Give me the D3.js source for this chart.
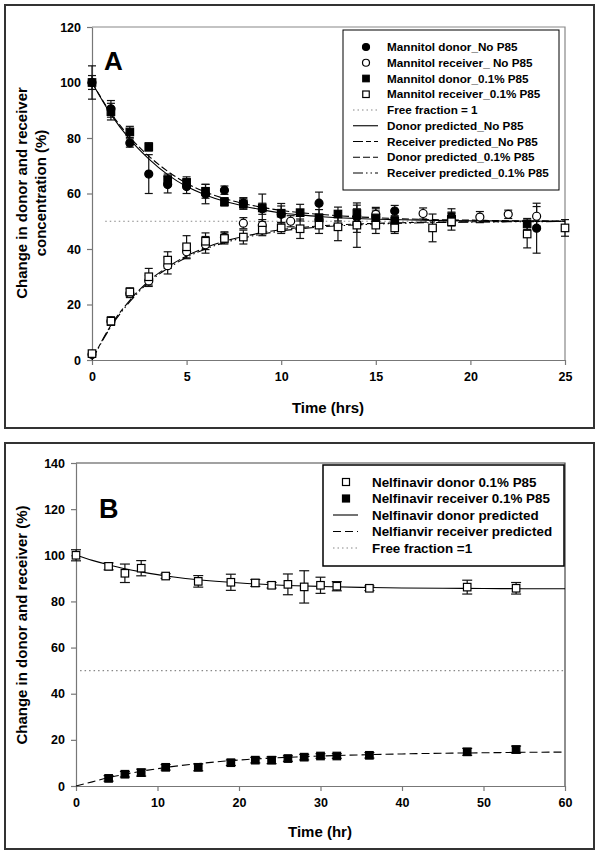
<!DOCTYPE html>
<html><head><meta charset="utf-8">
<script src="https://cdn.jsdelivr.net/npm/d3@7/dist/d3.min.js"></script>
<style>
body{margin:0;background:#fff;}
svg text{font-family:"Liberation Sans",Arial,Helvetica,sans-serif;font-weight:bold;fill:#000;}
</style></head>
<body>
<script>
// ---------------- Panel A data (Mannitol) ----------------
const aXTicks = [0,5,10,15,20,25];
const aYTicks = [0,20,40,60,80,100,120];

const donorNoT   = [0,1,2,3,4,5,6,7,8,9,10,12,14,15,16,19,23.5];
const donorNoV   = [100,90.5,78.2,67,63.2,62.5,59.8,61.2,56.5,54.5,52.5,56.5,51.5,51.5,53.7,51.5,47.5];
const donorNoE   = [6,3,1.5,7,3,2.5,3.5,1.5,2,2,3,4,3,3,2,3,9];

const recvNoT    = [0,1,2,3,4,5,6,7,8,9,10.5,12,14,15,17.5,19,20.5,22,23.5];
const recvNoV    = [2,14,24,28.5,34,39,41.5,44.2,49.3,48.6,50,50.5,49,52.5,52.8,51,51.5,52.5,51.8];
const recvNoE    = [1,1.5,1.5,2,3,2.5,3,2,2,2,2,2,3,2.5,2,2,2,1.5,3.5];

const donor01T   = [0,1,2,3,4,5,6,7,8,9,10,11,12,13,14,15,16,19,23];
const donor01V   = [100,89.5,82.2,76.8,65,64,60.8,57,56.3,54.8,52.9,53.1,51.2,52.6,52.8,51.2,50,50.8,49];
const donor01E   = [2.5,3,2,1.5,2,2,2.5,1.5,2,5,3.5,3,3,2.5,3,2.5,2,2.5,2];

const recv01T    = [0,1,2,3,4,5,6,7,8,9,10,11,12,13,14,15,16,18,19,23,25];
const recv01V    = [2.3,14,24.5,30,36,40.8,42.8,43.8,44.3,46.8,47.6,47.3,48.6,48,48.6,48.6,47.6,47.6,49.8,45.4,47.6];
const recv01E    = [1,1.5,1.5,3,3,4,3,2,2.5,2,2,3.5,3,5,8,3,2,5,3,5,3];

const predAT         = [0,1,2,3,4,5,6,7,8,9,10,11,12,14,16,18,20,22,25];
const predDonorNo    = [100,88.5,79.5,72.5,66.8,62.5,59.5,57.2,55.5,54.1,53,52.3,51.7,51,50.6,50.3,50.2,50.1,50];
const predRecvNo     = [0,12.5,21.5,28.5,33.5,37.5,40.5,42.8,44.5,45.9,47,47.7,48.3,49,49.4,49.7,49.8,49.9,50];
const predDonor01    = [100,89,80.3,73.5,68,63.7,60.5,58.2,56.4,55,53.9,53.1,52.5,51.6,51,50.6,50.4,50.2,50.1];
const predRecv01     = [0,12,21,28,33,37,40,42.3,44,45.4,46.5,47.3,47.9,48.7,49.2,49.5,49.7,49.8,49.9];
const freeA = [[0.7,50],[25,50]];

const aLegend = ["Mannitol donor_No P85","Mannitol receiver_ No P85","Mannitol donor_0.1% P85","Mannitol receiver_0.1% P85","Free fraction = 1","Donor predicted_No P85","Receiver predicted_No P85","Donor predicted_0.1% P85","Receiver predicted_0.1% P85"];

// ---------------- Panel B data (Nelfinavir) ----------------
const bXTicks = [0,10,20,30,40,50,60];
const bYTicks = [0,20,40,60,80,100,120,140];
const nelT       = [0,4,6,8,11,15,19,22,24,26,28,30,32,36,48,54];
const nelDonorV  = [100,95.2,92.2,94.4,91,88.7,88.3,88,87,87.4,86.3,87,86.6,85.7,86.2,85.7];
const nelDonorE  = [2.4,1.5,4,3.3,1,2.5,3.5,1.5,1.2,4.5,7,3.5,2,1,3,2.5];
const nelRecvT   = [4,6,8,11,15,19,22,24,26,28,30,32,36,48,54];
const nelRecvV   = [3.3,5.1,5.8,8.1,8.1,10.1,11.2,11.2,11.9,12.5,13,13,13.3,14.8,15.8];
const nelRecvE   = [1.2,1.2,1.5,1.2,1.5,1.2,1.2,1.5,1.2,1.2,1,1,1.2,1.5,1.5];
const predBT        = [0,2,4,6,8,10,12,15,18,21,24,27,30,35,40,45,50,55,60];
const predNelDonor  = [100,97.8,95.9,94.2,92.8,91.6,90.6,89.4,88.5,87.8,87.2,86.8,86.5,86.1,85.8,85.7,85.6,85.5,85.5];
const predNelRecv   = [0,1.8,3.6,5.1,6.4,7.5,8.5,9.7,10.7,11.5,12.1,12.6,13,13.5,13.9,14.2,14.4,14.6,14.7];
const freeB = [[0.5,50],[60,50]];

const bLegend = ["Nelfinavir donor 0.1% P85","Nelfinavir receiver 0.1% P85","Nelfinavir donor predicted","Nelfianvir receiver predicted","Free fraction =1"];

// ---------------- drawing ----------------
const svg = d3.select("body").append("svg").attr("width",600).attr("height",854);

// outer boxes
svg.append("rect").attr("x",5).attr("y",5).attr("width",589).attr("height",423)
  .attr("fill","none").attr("stroke","#333").attr("stroke-width",2);
svg.append("rect").attr("x",5).attr("y",443).attr("width",589).attr("height",406)
  .attr("fill","none").attr("stroke","#333").attr("stroke-width",2);

const xA = d3.scaleLinear().domain([0,25]).range([92,565]);
const yA = d3.scaleLinear().domain([0,120]).range([360,27]);
const xB = d3.scaleLinear().domain([0,60]).range([76,565]);
const yB = d3.scaleLinear().domain([0,140]).range([786,463]);

function axes(x,y,xt,yt,frameColor){
  const gx = svg.append("g").attr("transform",`translate(0,${y.range()[0]})`)
    .call(d3.axisBottom(x).tickValues(xt).tickSize(5).tickSizeOuter(0).tickPadding(7));
  const gy = svg.append("g").attr("transform",`translate(${x.range()[0]},0)`)
    .call(d3.axisLeft(y).tickValues(yt).tickSize(5).tickSizeOuter(0).tickPadding(6));
  [gx,gy].forEach(g=>{
    g.selectAll("path,line").attr("stroke","#777").attr("stroke-width",1.2);
    g.selectAll("text").attr("font-size",12.5).style("font-weight","bold")
      .attr("font-family","'Liberation Sans',Arial,sans-serif").attr("fill","#000");
  });
  svg.append("path")
    .attr("d",`M${x.range()[0]},${y.range()[1]}H${x.range()[1]}V${y.range()[0]}`)
    .attr("fill","none").attr("stroke",frameColor).attr("stroke-width",1.2);
}
axes(xA,yA,aXTicks,aYTicks,"#888");
axes(xB,yB,bXTicks,bYTicks,"#444");

function line(x,y,ts,vs,dash,color,w){
  const pts = ts.map((t,i)=>[t,vs[i]]);
  svg.append("path").datum(pts)
    .attr("d",d3.line().x(d=>x(d[0])).y(d=>y(d[1])).curve(d3.curveMonotoneX))
    .attr("fill","none").attr("stroke",color||"#000").attr("stroke-width",w||1.1)
    .attr("stroke-dasharray",dash||null);
}
function errbars(x,y,ts,vs,es,cap){
  const g = svg.append("g").attr("stroke","#111").attr("stroke-width",1.2);
  ts.forEach((t,i)=>{
    const cx=x(t), y1=y(vs[i]+es[i]), y2=y(vs[i]-es[i]);
    g.append("line").attr("x1",cx).attr("x2",cx).attr("y1",y1).attr("y2",y2);
    g.append("line").attr("x1",cx-cap).attr("x2",cx+cap).attr("y1",y1).attr("y2",y1);
    g.append("line").attr("x1",cx-cap).attr("x2",cx+cap).attr("y1",y2).attr("y2",y2);
  });
}
function marker(g,cx,cy,shape,filled,s){
  if(shape==="circle"){
    g.append("circle").attr("cx",cx).attr("cy",cy).attr("r",s/2)
      .attr("fill",filled?"#000":"#fff").attr("stroke","#000").attr("stroke-width",1.2);
  } else {
    g.append("rect").attr("x",cx-s/2).attr("y",cy-s/2).attr("width",s).attr("height",s)
      .attr("fill",filled?"#000":"#fff").attr("stroke","#000").attr("stroke-width",1.2);
  }
}
function points(x,y,ts,vs,shape,filled,s){
  const g = svg.append("g");
  ts.forEach((t,i)=>marker(g,x(t),y(vs[i]),shape,filled,s));
}

// Panel A
const DOT = "1.5,3";
line(xA,yA,freeA.map(d=>d[0]),freeA.map(d=>d[1]),DOT,"#888",1.2);
errbars(xA,yA,donorNoT,donorNoV,donorNoE,4);
errbars(xA,yA,recvNoT,recvNoV,recvNoE,4);
errbars(xA,yA,donor01T,donor01V,donor01E,4);
errbars(xA,yA,recv01T,recv01V,recv01E,4);
line(xA,yA,predAT,predDonorNo,null);
line(xA,yA,predAT,predRecvNo,"10,3,5,3");
line(xA,yA,predAT,predDonor01,"7,3");
line(xA,yA,predAT,predRecv01,"10,3,1.5,3,1.5,3");
points(xA,yA,donorNoT,donorNoV,"circle",true,8);
points(xA,yA,recvNoT,recvNoV,"circle",false,8);
points(xA,yA,donor01T,donor01V,"square",true,7.5);
points(xA,yA,recv01T,recv01V,"square",false,7.5);

svg.append("text").attr("x",104).attr("y",70).attr("font-size",26).text("A");
svg.append("text").attr("x",328).attr("y",413).attr("text-anchor","middle").attr("font-size",15).text("Time (hrs)");
svg.append("text").attr("transform","translate(27,193) rotate(-90)").attr("text-anchor","middle").attr("font-size",15).text("Change in donor and receiver");
svg.append("text").attr("transform","translate(46,193) rotate(-90)").attr("text-anchor","middle").attr("font-size",15).text("concentration (%)");

// legend A
svg.append("rect").attr("x",343).attr("y",30).attr("width",216).attr("height",160)
  .attr("fill","#fff").attr("stroke","#000").attr("stroke-width",1);
const legA = svg.append("g");
const aStyles = [
  {m:"circle",f:true},{m:"circle",f:false},{m:"square",f:true},{m:"square",f:false},
  {l:DOT,c:"#888"},{l:null},{l:"10,3,5,3"},{l:"7,3"},{l:"10,3,1.5,3,1.5,3"}];
aLegend.forEach((txt,i)=>{
  const yy = 47 + i*15.75;
  const st = aStyles[i];
  if(st.m) marker(legA,366,yy,st.m,st.f,st.m==="circle"?7:6.5);
  else legA.append("line").attr("x1",353).attr("x2",378).attr("y1",yy).attr("y2",yy)
      .attr("stroke",st.c||"#000").attr("stroke-width",1.1).attr("stroke-dasharray",st.l);
  legA.append("text").attr("x",387).attr("y",yy+4).attr("font-size",11.7).text(txt);
});

// Panel B
line(xB,yB,freeB.map(d=>d[0]),freeB.map(d=>d[1]),DOT,"#888",1.2);
errbars(xB,yB,nelT,nelDonorV,nelDonorE,5);
errbars(xB,yB,nelRecvT,nelRecvV,nelRecvE,5);
line(xB,yB,predBT,predNelDonor,null);
line(xB,yB,predBT,predNelRecv,"8,4");
points(xB,yB,nelT,nelDonorV,"square",false,7.5);
points(xB,yB,nelRecvT,nelRecvV,"square",true,7.5);

svg.append("text").attr("x",99).attr("y",518).attr("font-size",27).text("B");
svg.append("text").attr("x",320).attr("y",837).attr("text-anchor","middle").attr("font-size",15).text("Time (hr)");
svg.append("text").attr("transform","translate(27,625) rotate(-90)").attr("text-anchor","middle").attr("font-size",15).text("Change in donor and receiver (%)");

svg.append("rect").attr("x",323).attr("y",465).attr("width",241).attr("height",101)
  .attr("fill","#fff").attr("stroke","#000").attr("stroke-width",1.5);
const legB = svg.append("g");
const bStyles = [{m:"square",f:false},{m:"square",f:true},{l:null},{l:"8,4"},{l:DOT,c:"#888"}];
bLegend.forEach((txt,i)=>{
  const yy = 482 + i*16.5;
  const st = bStyles[i];
  if(st.m) marker(legB,346,yy,st.m,st.f,7);
  else legB.append("line").attr("x1",333).attr("x2",358).attr("y1",yy).attr("y2",yy)
      .attr("stroke",st.c||"#000").attr("stroke-width",1.1).attr("stroke-dasharray",st.l);
  legB.append("text").attr("x",372).attr("y",yy+4.5).attr("font-size",13.4).text(txt);
});
</script>
</body></html>
